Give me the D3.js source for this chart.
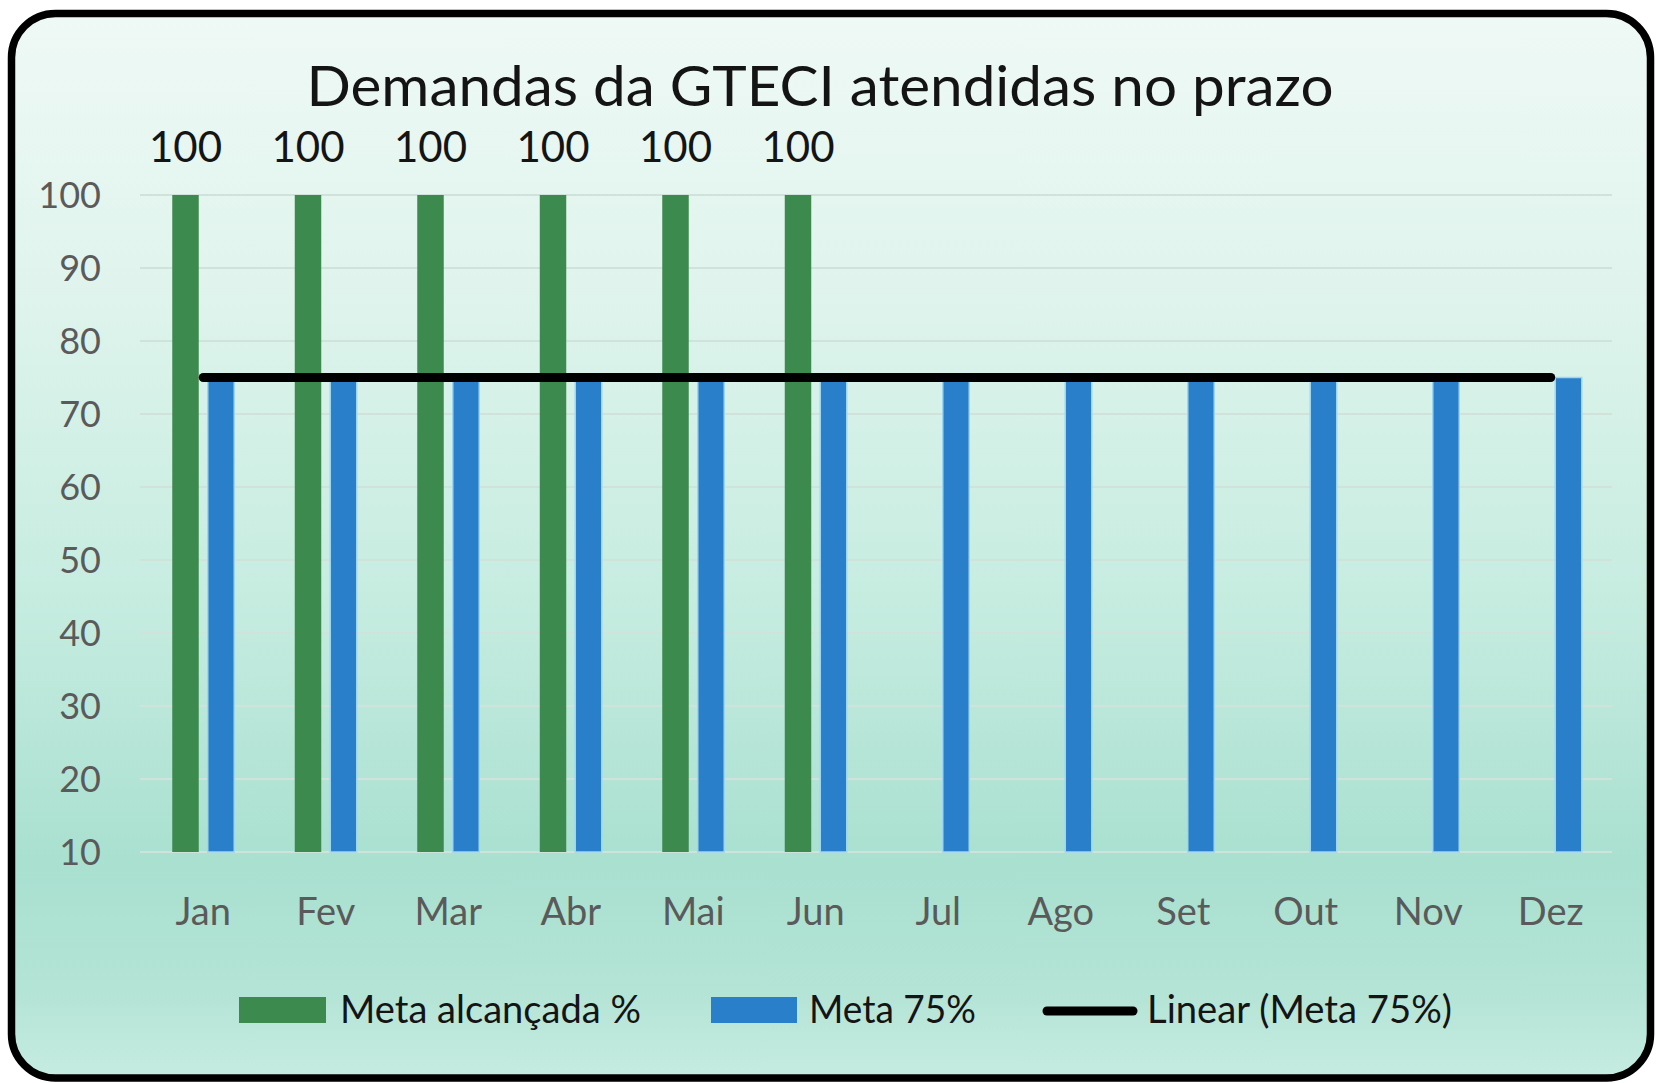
<!DOCTYPE html>
<html lang="pt">
<head>
<meta charset="utf-8">
<title>Demandas da GTECI atendidas no prazo</title>
<script src="https://cdn.jsdelivr.net/npm/d3@7"></script>
<style>
  html, body { margin: 0; padding: 0; background: #ffffff; }
  svg { display: block; font-family: Lato, "Open Sans", "DejaVu Sans", sans-serif; }
</style>
</head>
<body>
<svg id="chart" width="1656" height="1083"></svg>
<script>
// Monthly categories and the two bar series
const months = ["Jan", "Fev", "Mar", "Abr", "Mai", "Jun", "Jul", "Ago", "Set", "Out", "Nov", "Dez"];
const metaAlcancada = [100, 100, 100, 100, 100, 100, null, null, null, null, null, null];
const meta75 = [75, 75, 75, 75, 75, 75, 75, 75, 75, 75, 75, 75];
const yTicks = [10, 20, 30, 40, 50, 60, 70, 80, 90, 100];
const seriesNames = ["Meta alcançada %", "Meta 75%", "Linear (Meta 75%)"];
const titleText = "Demandas da GTECI atendidas no prazo";

const W = 1656, H = 1083;
const plot = { left: 142, right: 1612, top: 195, bottom: 852 };
const colors = { green: "#3d8a4f", blue: "#2a7fcb", trend: "#000000", grid: "#cfe3da", axisText: "#5a5a5a", text: "#141414" };

const svg = d3.select("#chart");

// Panel background with a soft vertical mint gradient and a rounded black border
const defs = svg.append("defs");
const grad = defs.append("linearGradient")
  .attr("id", "panelFill")
  .attr("gradientUnits", "userSpaceOnUse")
  .attr("x1", 0).attr("y1", 13).attr("x2", 0).attr("y2", 1078);
[
  [0.00, "#eff9f6"],
  [0.25, "#e0f4ed"],
  [0.55, "#c6ece0"],
  [0.80, "#a9e0d0"],
  [0.92, "#b4e4d6"],
  [1.00, "#c6ece1"]
].forEach(([o, c]) => grad.append("stop").attr("offset", o).attr("stop-color", c));

svg.append("rect")
  .attr("x", 11.5).attr("y", 13.5)
  .attr("width", 1639).attr("height", 1064.5)
  .attr("rx", 44).attr("ry", 44)
  .attr("fill", "url(#panelFill)")
  .attr("stroke", "#000")
  .attr("stroke-width", 7.5);

// Scales
const x0 = d3.scaleBand()
  .domain(months)
  .range([plot.left, plot.right])
  .paddingInner(0.494)
  .paddingOuter(0.247);

const x1 = d3.scaleBand()
  .domain(["alcancada", "meta"])
  .range([0, x0.bandwidth()])
  .paddingInner(0.254);

const y = d3.scaleLinear()
  .domain([10, 100])
  .range([plot.bottom, plot.top]);

// Horizontal gridlines
svg.append("g")
  .selectAll("line")
  .data(yTicks)
  .join("line")
  .attr("x1", plot.left - 2)
  .attr("x2", plot.right)
  .attr("y1", d => y(d))
  .attr("y2", d => y(d))
  .attr("stroke", colors.grid)
  .attr("stroke-width", 2);

// Y axis labels
const yAxis = svg.append("g")
  .attr("transform", `translate(${plot.left},0)`)
  .call(d3.axisLeft(y).tickValues(yTicks).tickSize(0).tickPadding(41).tickFormat(d3.format("d")));
yAxis.select(".domain").remove();
yAxis.selectAll("text")
  .attr("fill", colors.axisText)
  .attr("font-size", 36)
  .attr("font-family", "Lato, 'Open Sans', sans-serif")
  .attr("dy", "0.36em");

// X axis labels
const xAxis = svg.append("g")
  .attr("transform", `translate(0,${plot.bottom})`)
  .call(d3.axisBottom(x0).tickSize(0));
xAxis.select(".domain").remove();
xAxis.selectAll("text")
  .attr("fill", colors.axisText)
  .attr("font-size", 38)
  .attr("font-family", "Lato, 'Open Sans', sans-serif")
  .attr("y", 73)
  .attr("dy", 0);

// Bars
const rows = months.map((m, i) => ({ month: m, alcancada: metaAlcancada[i], meta: meta75[i] }));

const groups = svg.append("g")
  .selectAll("g")
  .data(rows)
  .join("g")
  .attr("transform", d => `translate(${x0(d.month)},0)`);

groups.filter(d => d.meta != null)
  .append("rect")
  .attr("x", x1("meta"))
  .attr("width", x1.bandwidth())
  .attr("y", d => y(d.meta))
  .attr("height", d => y(10) - y(d.meta))
  .attr("fill", colors.blue)
  .attr("stroke", "#9ed6ef")
  .attr("stroke-width", 1.5);

groups.filter(d => d.alcancada != null)
  .append("rect")
  .attr("x", x1("alcancada"))
  .attr("width", x1.bandwidth())
  .attr("y", d => y(d.alcancada))
  .attr("height", d => y(10) - y(d.alcancada))
  .attr("fill", colors.green);

// Data labels above the achieved bars
groups.filter(d => d.alcancada != null)
  .append("text")
  .attr("x", x1("alcancada") + x1.bandwidth() / 2)
  .attr("y", 162)
  .attr("text-anchor", "middle")
  .attr("font-size", 42)
  .attr("fill", colors.text)
  .text(d => d.alcancada);

// Linear trendline fitted to the "Meta 75%" series (least squares)
const n = meta75.length;
const idx = d3.range(1, n + 1);
const mx = d3.mean(idx), my = d3.mean(meta75);
const sxy = d3.sum(idx, (k, i) => (k - mx) * (meta75[i] - my));
const sxx = d3.sum(idx, k => (k - mx) * (k - mx));
const slope = sxx === 0 ? 0 : sxy / sxx;
const intercept = my - slope * mx;
const trend = idx.map((k, i) => ({ month: months[i], value: intercept + slope * k }));

svg.append("path")
  .datum(trend)
  .attr("d", d3.line()
    .x(d => x0(d.month) + x0.bandwidth() / 2)
    .y(d => y(d.value)))
  .attr("fill", "none")
  .attr("stroke", colors.trend)
  .attr("stroke-width", 9)
  .attr("stroke-linecap", "round");

// Title
svg.append("text")
  .attr("x", 820)
  .attr("y", 106)
  .attr("text-anchor", "middle")
  .attr("font-size", 57)
  .attr("fill", colors.text)
  .attr("textLength", 1027)
  .attr("lengthAdjust", "spacingAndGlyphs")
  .text(titleText);

// Legend
const legend = svg.append("g");
const legendY = 1023;

legend.append("rect").attr("x", 239).attr("y", 997).attr("width", 87).attr("height", 26).attr("fill", colors.green);
legend.append("text").attr("x", 340).attr("y", legendY).attr("font-size", 38).attr("fill", colors.text)
  .attr("textLength", 301).attr("lengthAdjust", "spacingAndGlyphs").text(seriesNames[0]);

legend.append("rect").attr("x", 711).attr("y", 997).attr("width", 86).attr("height", 26).attr("fill", colors.blue);
legend.append("text").attr("x", 809).attr("y", legendY).attr("font-size", 38).attr("fill", colors.text)
  .attr("textLength", 167).attr("lengthAdjust", "spacingAndGlyphs").text(seriesNames[1]);

legend.append("line").attr("x1", 1047).attr("x2", 1133).attr("y1", 1011).attr("y2", 1011)
  .attr("stroke", colors.trend).attr("stroke-width", 9).attr("stroke-linecap", "round");
legend.append("text").attr("x", 1147).attr("y", legendY).attr("font-size", 38).attr("fill", colors.text)
  .attr("textLength", 305).attr("lengthAdjust", "spacingAndGlyphs").text(seriesNames[2]);
</script>
</body>
</html>
